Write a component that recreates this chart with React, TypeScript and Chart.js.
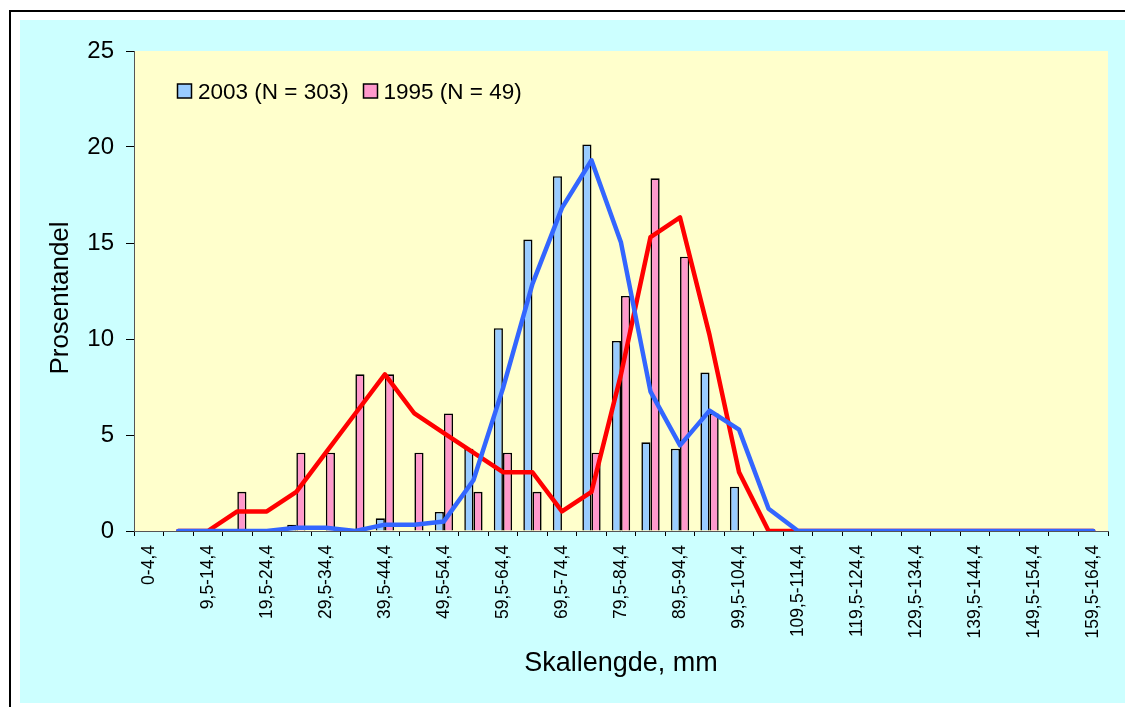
import React, { useEffect, useRef } from "react";
import { Chart, registerables } from "chart.js";

Chart.register(...registerables);

const categories = [
  "0-4,4", "4,5-9,4", "9,5-14,4", "14,5-19,4", "19,5-24,4", "24,5-29,4",
  "29,5-34,4", "34,5-39,4", "39,5-44,4", "44,5-49,4", "49,5-54,4", "54,5-59,4",
  "59,5-64,4", "64,5-69,4", "69,5-74,4", "74,5-79,4", "79,5-84,4", "84,5-89,4",
  "89,5-94,4", "94,5-99,4", "99,5-104,4", "104,5-109,4", "109,5-114,4", "114,5-119,4",
  "119,5-124,4", "124,5-129,4", "129,5-134,4", "134,5-139,4", "139,5-144,4", "144,5-149,4",
  "149,5-154,4", "154,5-159,4", "159,5-164,4",
];

// percent per class, 2003 (N = 303)
const bars2003 = [
  null, null, null, null, null, 0.33, null, null, 0.66, null, 0.99, 4.29,
  10.56, 15.18, 18.48, 20.13, 9.9, 4.62, 4.29, 8.25, 2.31, null, null, null,
  null, null, null, null, null, null, null, null, null,
];

// percent per class, 1995 (N = 49)
const bars1995 = [
  null, null, null, 2.04, null, 4.08, 4.08, 8.16, 8.16, 4.08, 6.12, 2.04,
  4.08, 2.04, null, 4.08, 12.24, 18.37, 14.29, 6.12, null, null, null, null,
  null, null, null, null, null, null, null, null, null,
];

// trend lines
const trend2003 = [
  null, 0, 0, 0, 0, 0.17, 0.17, 0, 0.33, 0.33, 0.5, 2.64,
  7.43, 12.87, 16.83, 19.31, 15.02, 7.26, 4.46, 6.27, 5.28, 1.16, 0, 0,
  0, 0, 0, 0, 0, 0, 0, 0, 0,
];

const trend1995 = [
  null, 0, 0, 1.02, 1.02, 2.04, 4.08, 6.12, 8.16, 6.12, 5.1, 4.08,
  3.06, 3.06, 1.02, 2.04, 8.16, 15.31, 16.33, 10.2, 3.06, 0, 0, 0,
  0, 0, 0, 0, 0, 0, 0, 0, 0,
];

const legendLabels = ["2003 (N = 303)", "1995 (N = 49)"];
const xTitle = "Skallengde, mm";
const yTitle = "Prosentandel";

const FONT = "'Liberation Sans', Arial, Helvetica, sans-serif";
const BLUE_BAR = "#99CCFF";
const PINK_BAR = "#FF99CC";

const framePlugin = {
  id: "frame",
  beforeDraw(chart: any) {
    const { ctx, chartArea } = chart;
    ctx.save();
    ctx.fillStyle = "#FFFFFF";
    ctx.fillRect(0, 0, chart.width, chart.height);
    ctx.fillStyle = "#000000";
    ctx.fillRect(9, 10, chart.width - 9, 2);
    ctx.fillRect(9, 10, 2, chart.height - 10);
    ctx.fillStyle = "#CCFFFF";
    ctx.fillRect(20, 20, chart.width - 20, 683);
    ctx.fillStyle = "#FFFFCC";
    ctx.fillRect(chartArea.left, chartArea.top, chartArea.right - chartArea.left, chartArea.bottom - chartArea.top);
    ctx.restore();
  },
};

const textPlugin = {
  id: "insideLegend",
  afterDraw(chart: any) {
    const { ctx } = chart;
    const items = [
      { x: 177.5, color: BLUE_BAR, text: legendLabels[0], tx: 198 },
      { x: 363.5, color: PINK_BAR, text: legendLabels[1], tx: 383.5 },
    ];
    ctx.save();
    ctx.font = `22.5px ${FONT}`;
    ctx.textBaseline = "alphabetic";
    ctx.textAlign = "left";
    for (const it of items) {
      ctx.fillStyle = it.color;
      ctx.fillRect(it.x, 84, 14, 14);
      ctx.strokeStyle = "#000";
      ctx.lineWidth = 1.5;
      ctx.strokeRect(it.x, 84, 14, 14);
      ctx.fillStyle = "#000";
      ctx.fillText(it.text, it.tx, 98.5);
    }
    // y axis title
    ctx.translate(61, 298);
    ctx.rotate(-Math.PI / 2);
    ctx.font = `26px ${FONT}`;
    ctx.textAlign = "center";
    ctx.textBaseline = "middle";
    ctx.fillStyle = "#000";
    ctx.fillText(yTitle, 0, 0);
    ctx.restore();
  },
};

export default function App() {
  const ref = useRef<HTMLCanvasElement>(null);

  useEffect(() => {
    document.body.style.margin = "0";
    const canvas = ref.current;
    if (!canvas) return;
    const chart = new Chart(canvas, {
      type: "bar",
      data: {
        labels: categories,
        datasets: [
          {
            type: "line",
            label: "2003 trend",
            data: trend2003,
            borderColor: "#3366FF",
            backgroundColor: "#3366FF",
            borderWidth: 4.5,
            pointRadius: 0,
            tension: 0,
            fill: false,
            borderJoinStyle: "round",
            borderCapStyle: "round",
            order: 0,
          } as any,
          {
            type: "line",
            label: "1995 trend",
            data: trend1995,
            borderColor: "#FF0000",
            backgroundColor: "#FF0000",
            borderWidth: 4.5,
            pointRadius: 0,
            tension: 0,
            fill: false,
            borderJoinStyle: "round",
            borderCapStyle: "round",
            order: 1,
          } as any,
          {
            type: "bar",
            label: legendLabels[0],
            data: bars2003,
            backgroundColor: BLUE_BAR,
            borderColor: "#000000",
            borderWidth: 1.6,
            borderSkipped: "start",
            order: 2,
          } as any,
          {
            type: "bar",
            label: legendLabels[1],
            data: bars1995,
            backgroundColor: PINK_BAR,
            borderColor: "#000000",
            borderWidth: 1.6,
            borderSkipped: "start",
            order: 3,
          } as any,
        ],
      },
      options: {
        responsive: false,
        animation: false,
        devicePixelRatio: 1,
        layout: { padding: { top: 51, right: 17, bottom: 0, left: 0 } },
        datasets: { bar: { categoryPercentage: 0.62, barPercentage: 1 } } as any,
        plugins: {
          legend: { display: false },
          tooltip: { enabled: false },
        },
        scales: {
          x: {
            offset: true,
            grid: {
              offset: true,
              drawOnChartArea: false,
              drawTicks: true,
              tickLength: 5,
              color: "#000000",
            },
            border: { display: true, color: "#555555", width: 1 },
            ticks: {
              autoSkip: false,
              maxRotation: 90,
              minRotation: 90,
              padding: 9,
              color: "#000000",
              font: { family: FONT, size: 17.5 },
              callback: (_v: any, i: number) => (i % 2 === 0 ? categories[i] : ""),
            },
            title: {
              display: true,
              text: xTitle,
              color: "#000000",
              font: { family: FONT, size: 27 },
              padding: { top: 0, bottom: 27 },
            },
            afterFit: (s: any) => {
              s.height = 176;
            },
          } as any,
          y: {
            min: 0,
            max: 25,
            grid: {
              drawOnChartArea: false,
              drawTicks: true,
              tickLength: 8,
              color: "#000000",
            },
            border: { display: true, color: "#555555", width: 1 },
            ticks: {
              stepSize: 5,
              padding: 12,
              color: "#000000",
              font: { family: FONT, size: 24 },
            },
            title: { display: false, text: yTitle },
            afterFit: (s: any) => {
              s.width = 134;
            },
          } as any,
        },
      },
      plugins: [framePlugin, textPlugin],
    });
    return () => chart.destroy();
  }, []);

  return (
    <div style={{ width: 1125, height: 707 }}>
      <canvas ref={ref} width={1125} height={707} style={{ display: "block" }} />
    </div>
  );
}
